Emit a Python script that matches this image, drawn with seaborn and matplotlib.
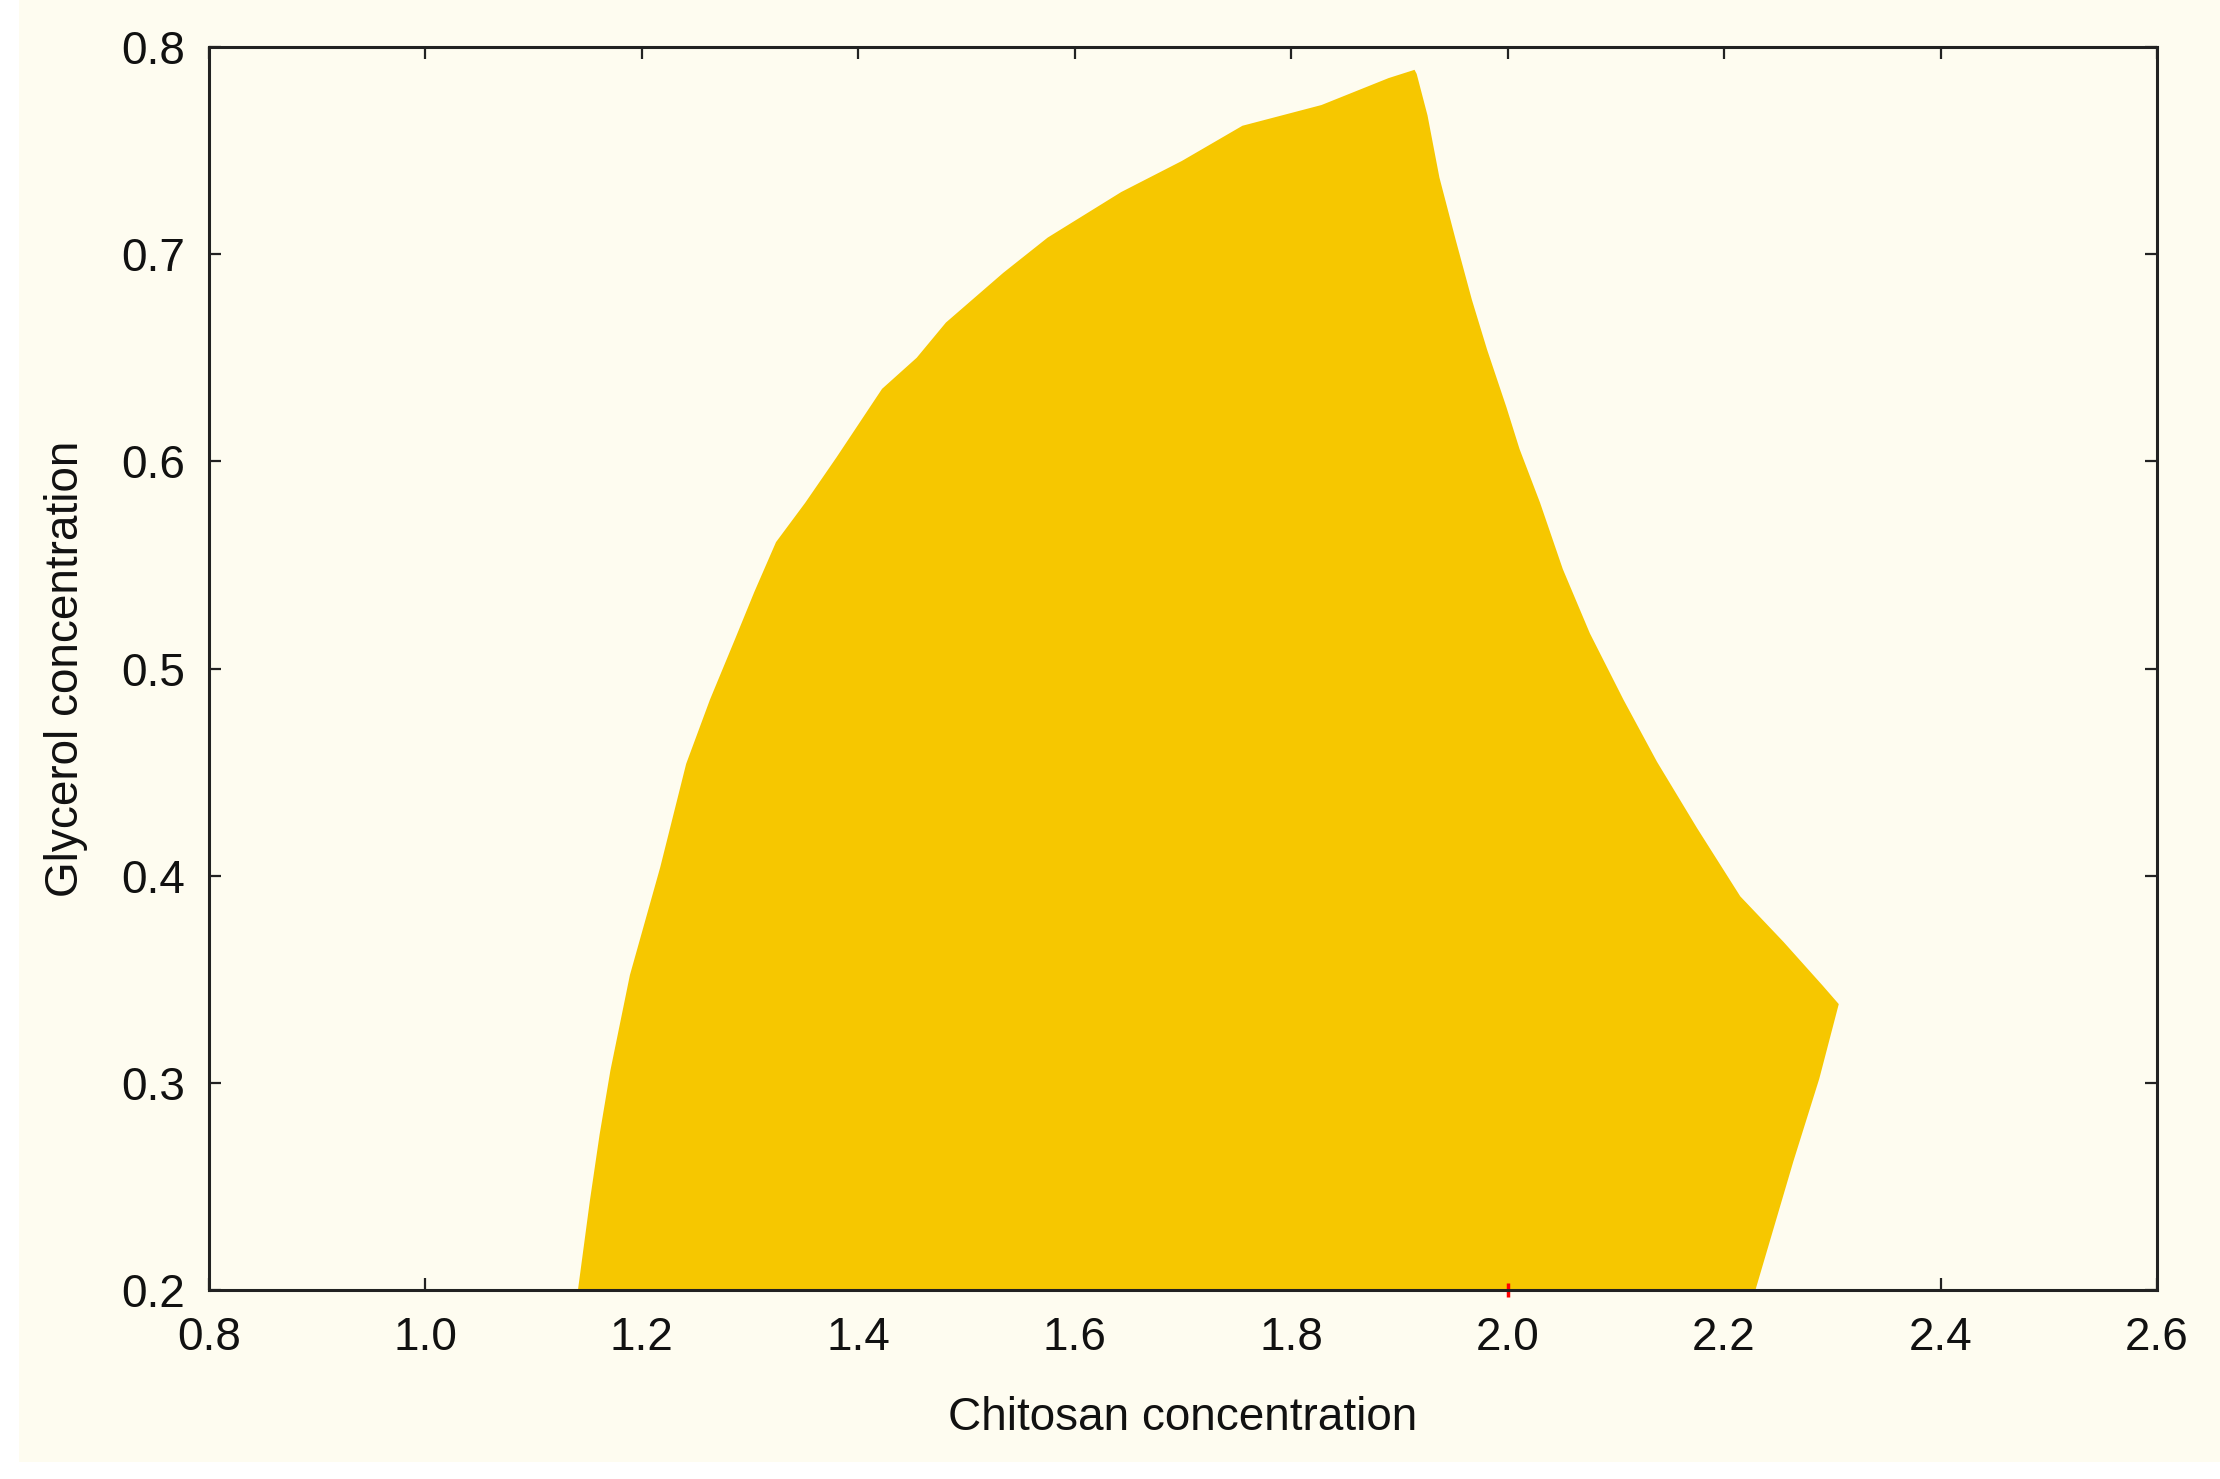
import numpy as np
import pandas as pd
import matplotlib
matplotlib.use("Agg")
import matplotlib.pyplot as plt
import seaborn as sns
from matplotlib.patches import Rectangle

sns.set_theme(style="ticks")
plt.rcParams["font.family"] = ["Liberation Sans", "DejaVu Sans"]

# boundary of the region, left edge from bottom to top
left_x = [1.141, 1.152, 1.161, 1.171, 1.189, 1.217, 1.241, 1.263, 1.286, 1.304,
          1.324, 1.351, 1.380, 1.422, 1.454, 1.481, 1.534, 1.575, 1.643, 1.699,
          1.755, 1.828, 1.890, 1.914]
left_y = [0.200, 0.243, 0.275, 0.306, 0.352, 0.404, 0.454, 0.485, 0.514, 0.537,
          0.561, 0.580, 0.602, 0.635, 0.650, 0.667, 0.691, 0.708, 0.730, 0.745,
          0.762, 0.772, 0.785, 0.789]
# right edge from top to bottom
right_x = [1.916, 1.926, 1.937, 1.952, 1.967, 1.981, 1.999, 2.011, 2.030, 2.051,
           2.076, 2.107, 2.138, 2.175, 2.215, 2.255, 2.291, 2.306, 2.288, 2.264,
           2.229]
right_y = [0.787, 0.767, 0.737, 0.707, 0.678, 0.654, 0.626, 0.606, 0.580, 0.548,
           0.517, 0.485, 0.455, 0.423, 0.390, 0.368, 0.347, 0.338, 0.302, 0.262,
           0.200]

x_ticks = [0.8, 1.0, 1.2, 1.4, 1.6, 1.8, 2.0, 2.2, 2.4, 2.6]
y_ticks = [0.2, 0.3, 0.4, 0.5, 0.6, 0.7, 0.8]

region = pd.DataFrame({"chitosan": left_x + right_x,
                       "glycerol": left_y + right_y})

cream = "#FEFCF0"
gold = "#F6C700"

fig = plt.figure(figsize=(22.2, 14.79), dpi=100, facecolor="white")
fig.patches.append(Rectangle((19 / 2220, 17 / 1479), 1, 1, transform=fig.transFigure,
                             facecolor=cream, edgecolor="none", zorder=-10))
ax = fig.add_axes([0.0941, 0.1278, 0.8775, 0.8404])
ax.set_facecolor(cream)

ax.fill(region["chitosan"], region["glycerol"], color=gold, lw=0, zorder=1)
# tiny red mark on the axis at 2.0
ax.plot([2.0], [0.2], marker="|", color="red", markersize=10, mew=2.5,
        clip_on=False, zorder=3)

ax.set_xlim(0.8, 2.6)
ax.set_ylim(0.2, 0.8)
ax.set_xticks(x_ticks)
ax.set_yticks(y_ticks)
ax.set_xticklabels([f"{v:.1f}" for v in x_ticks])
ax.set_yticklabels([f"{v:.1f}" for v in y_ticks])

for s in ax.spines.values():
    s.set_visible(True)
    s.set_linewidth(2.2)
    s.set_color("#222222")
    s.set_zorder(4)

ax.tick_params(axis="both", direction="in", length=8.5, width=1.6, color="#222222",
               top=True, right=True, labelsize=33, labelcolor="#111111")
ax.tick_params(axis="x", pad=19)
ax.tick_params(axis="y", pad=17)

ax.set_xlabel("Chitosan concentration", fontsize=33, color="#111111", va="center")
ax.set_ylabel("Glycerol concentration", fontsize=33, color="#111111", va="center")
ax.xaxis.set_label_coords(0.5, -0.103)
ax.yaxis.set_label_coords(-0.0734, 0.5)

fig.savefig("out.png", dpi=100, facecolor="white")
